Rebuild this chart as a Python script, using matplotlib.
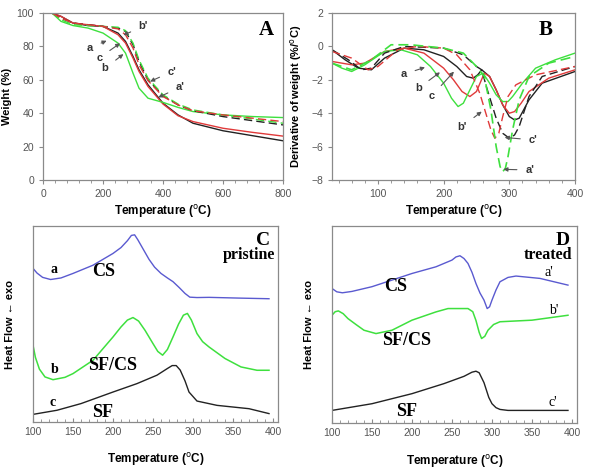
import numpy as np
import matplotlib.pyplot as plt
from matplotlib.ticker import MultipleLocator

# ---- Panel A: TGA (temperature, weight %) ----
tga_t = [30, 60, 100, 150, 200, 250, 275, 300, 320, 350, 400, 450, 500, 600, 700, 800]
tga_a = [100, 98, 94, 92.5, 92, 88, 83, 74, 66, 57, 46, 39, 34, 29.5, 26.5, 23.5]
tga_c = [100, 98, 94, 93, 92, 87, 82, 73, 65, 56, 45.5, 38.5, 35, 31, 28.5, 26.3]
tga_b = [100, 95, 92.5, 91, 88, 82, 76, 64, 55, 49, 46.5, 43.5, 41, 39, 38, 37.4]
tga_a2 = [100, 97, 94, 93, 92, 91, 89, 81, 71, 60, 50.5, 45, 41.5, 38, 35.5, 33]
tga_b2 = [100, 96, 93, 92.5, 92, 91.5, 89.5, 82, 72, 61, 51, 45.5, 42, 39, 36.5, 34]
tga_c2 = [100, 97, 94, 93, 92, 90.5, 87, 79, 69, 59.5, 50, 45, 41.5, 39, 37, 35]

# ---- Panel B: DTG (temperature, %/°C) ----
dtg_a_t = [30, 50, 70, 90, 110, 140, 170, 200, 220, 235, 245, 252, 258, 270, 280, 290, 300, 308, 315, 330, 350, 400]
dtg_a = [-0.2, -0.8, -1.3, -1.4, -0.7, -0.1, -0.2, -0.6, -1.2, -1.8, -1.9, -1.7, -1.4, -1.8, -2.6, -3.5, -4.2, -4.4, -4.3, -3.2, -2.2, -1.5]
dtg_b_t = [30, 45, 60, 80, 110, 135, 160, 180, 200, 212, 222, 230, 240, 250, 260, 270, 280, 290, 298, 305, 320, 340, 370, 400]
dtg_b = [-1.0, -1.3, -1.5, -1.1, -0.3, -0.2, -0.5, -1.2, -2.2, -3.1, -3.6, -3.4, -2.6, -1.8, -1.6, -2.2, -2.9, -3.3, -3.3, -3.0, -2.2, -1.3, -0.8, -0.4]
dtg_c_t = [30, 60, 80, 110, 140, 170, 200, 215, 228, 240, 250, 262, 270, 280, 290, 300, 308, 318, 330, 360, 400]
dtg_c = [-0.9, -1.1, -1.0, -0.3, -0.1, -0.4, -1.3, -2.0, -2.7, -3.0, -2.7, -1.6, -1.8, -2.6, -3.5, -4.0, -3.9, -3.4, -2.7, -1.9, -1.4]
dtg_a2_t = [30, 60, 90, 120, 150, 200, 230, 250, 262, 272, 280, 286, 290, 294, 298, 305, 315, 330, 360, 400]
dtg_a2 = [-1.0, -1.4, -0.8, 0.1, 0.1, -0.1, -0.4, -1.2, -1.8, -3.8, -6.0, -7.2, -7.5, -7.3, -6.6, -5.0, -3.2, -1.8, -1.0, -0.6]
dtg_c2_t = [30, 55, 75, 90, 110, 140, 200, 230, 250, 258, 265, 280, 290, 300, 308, 315, 330, 350, 400]
dtg_c2 = [-0.2, -0.8, -1.4, -1.3, -0.4, 0.0, -0.1, -0.5, -1.2, -1.4, -2.4, -4.3, -5.2, -5.5, -5.3, -4.8, -3.0, -1.8, -1.2]
dtg_b2_t = [30, 60, 85, 100, 130, 160, 200, 220, 240, 255, 265, 272, 278, 284, 290, 298, 310, 340, 400]
dtg_b2 = [-0.3, -0.7, -1.4, -1.2, -0.2, 0.0, -0.1, -0.5, -1.4, -2.8, -4.1, -5.0, -5.5, -5.2, -4.2, -3.0, -2.3, -1.7, -1.2]

# ---- Panel C: DSC pristine (arbitrary units) ----
dsc_cs_t = [100, 105, 112, 122, 135, 150, 175, 200, 210, 218, 223, 227, 231, 238, 245, 252, 260, 268, 275, 283, 290, 296, 305, 320, 360, 395]
dsc_cs = [78.4, 76, 73.8, 72.7, 73.5, 75.8, 80, 86, 89, 92.5, 95.2, 95.5, 93, 88, 83, 79, 75.8, 73.5, 71.6, 68.5, 65.6, 63.7, 63.5, 63.6, 63.2, 62.9]
dsc_sfcs_t = [100, 103, 108, 115, 125, 140, 150, 175, 200, 210, 218, 225, 232, 240, 250, 256, 262, 268, 275, 282, 288, 293, 298, 305, 312, 320, 340, 360, 380, 395]
dsc_sfcs = [39.2, 33, 27, 23, 21.6, 22.8, 24.7, 31.5, 43.4, 48.5, 52, 53.3, 51.5, 46.8, 40, 36, 34.1, 37, 43.4, 50, 54.5, 55.4, 52, 45.1, 41, 38.3, 32.4, 28.1, 26.4, 26.4]
dsc_sf_t = [100, 130, 160, 200, 230, 255, 268, 274, 279, 284, 290, 295, 305, 330, 370, 395]
dsc_sf = [3.9, 6, 9.4, 15.3, 19.6, 23.9, 27.3, 28.8, 28.8, 26.5, 21, 15.3, 10.7, 8.5, 6.8, 4.3]

# ---- Panel D: DSC treated ----
dsc2_cs_t = [100, 106, 113, 125, 150, 200, 230, 250, 255, 260, 265, 270, 275, 280, 285, 290, 294, 297, 300, 305, 310, 320, 330, 360, 395]
dsc2_cs = [68.3, 66.6, 66.1, 66.8, 69.2, 75.9, 79.3, 82.7, 84.3, 84.9, 83.5, 81, 76.5, 70.8, 66, 62.4, 58.1, 59, 62.4, 67.5, 71.7, 73.9, 74.6, 73.4, 70]
dsc2_sfcs_t = [100, 104, 108, 114, 120, 130, 140, 155, 175, 200, 230, 245, 270, 276, 280, 284, 287, 291, 295, 302, 310, 350, 395]
dsc2_sfcs = [54.7, 56.5, 56.9, 55.5, 53, 50, 47.1, 45.4, 47.1, 52.2, 56.4, 58.1, 58.1, 56.5, 52, 46, 42.9, 44, 47.1, 50, 51.4, 52.2, 54.7]
dsc2_sf_t = [100, 150, 200, 240, 265, 275, 280, 284, 290, 296, 300, 305, 310, 320, 395]
dsc2_sf = [6.4, 9.8, 14.9, 20, 23.7, 25.8, 26.3, 25.5, 20.5, 13, 9.8, 7.8, 6.9, 6.4, 6.4]

GREEN = '#3ee03e'
RED = '#e03a3a'
BLACK = '#222222'
BLUE = '#5a5ad0'
FRAME = '#8a8a8a'
DASH = (0, (6, 3))

plt.rcParams['font.family'] = ['Liberation Sans', 'DejaVu Sans']
fig = plt.figure(figsize=(6, 4.76), dpi=100)

axA = fig.add_axes([0.0717, 0.6218, 0.40, 0.3508])
axB = fig.add_axes([0.5533, 0.6218, 0.405, 0.3508])
axC = fig.add_axes([0.055, 0.1134, 0.408, 0.4118])
axD = fig.add_axes([0.5533, 0.1113, 0.408, 0.4139])

xlabel = 'Temperature ($^{\\mathrm{o}}$C)'


def style_axes(ax, inward=False):
    for s in ax.spines.values():
        s.set_color(FRAME)
        s.set_linewidth(0.9)
    ax.tick_params(which='both', direction='in' if inward else 'out',
                   labelsize=7.5, labelcolor='#555555', color=FRAME,
                   top=False, right=False)
    ax.tick_params(which='major', length=3)
    ax.tick_params(which='minor', length=2)


def arrow_label(ax, text, xy, xytext, size=8):
    ax.annotate(text, xy=xy, xytext=xytext, fontsize=size, fontweight='bold',
                color='#333333', ha='center', va='center',
                arrowprops=dict(arrowstyle='-|>', color='#555555', lw=0.8,
                                mutation_scale=6, shrinkA=4, shrinkB=0))


# Panel A
axA.plot(tga_t, tga_a, color=BLACK, lw=1)
axA.plot(tga_t, tga_c, color=RED, lw=1)
axA.plot(tga_t, tga_b, color=GREEN, lw=1)
axA.plot(tga_t, tga_a2, color=BLACK, lw=1, ls=DASH)
axA.plot(tga_t, tga_b2, color=GREEN, lw=1, ls=DASH)
axA.plot(tga_t, tga_c2, color=RED, lw=1, ls=DASH)
axA.set_xlim(0, 800)
axA.set_ylim(0, 100)
axA.xaxis.set_major_locator(MultipleLocator(200))
axA.xaxis.set_minor_locator(MultipleLocator(40))
axA.yaxis.set_major_locator(MultipleLocator(20))
style_axes(axA)
axA.set_xlabel(xlabel, fontsize=8.5, fontweight='bold')
axA.set_ylabel('Weight (%)', fontsize=8, fontweight='bold')
axA.xaxis.set_label_coords(0.5, -0.14)
axA.yaxis.set_label_coords(-0.13, 0.5)
axA.text(0.93, 0.90, 'A', transform=axA.transAxes, fontsize=15, fontweight='bold',
         family='Liberation Serif', ha='center', va='center')
arrow_label(axA, 'a', (212, 83.4), (157, 79.2))
arrow_label(axA, 'c', (257, 81.9), (188, 73.2))
arrow_label(axA, 'b', (268, 75.4), (207, 66.9))
arrow_label(axA, "b'", (268, 86.8), (334, 92))
arrow_label(axA, "c'", (357, 59), (429, 64.9))
arrow_label(axA, "a'", (384, 49.5), (457, 55.5))

# Panel B
axB.plot(dtg_a_t, dtg_a, color=BLACK, lw=1)
axB.plot(dtg_c_t, dtg_c, color=RED, lw=1)
axB.plot(dtg_b_t, dtg_b, color=GREEN, lw=1)
axB.plot(dtg_c2_t, dtg_c2, color=BLACK, lw=1, ls=DASH)
axB.plot(dtg_b2_t, dtg_b2, color=RED, lw=1, ls=DASH)
axB.plot(dtg_a2_t, dtg_a2, color=GREEN, lw=1.2, ls=DASH)
axB.set_xlim(30, 400)
axB.set_ylim(-8, 2)
axB.xaxis.set_major_locator(MultipleLocator(100))
axB.xaxis.set_minor_locator(MultipleLocator(20))
axB.yaxis.set_major_locator(MultipleLocator(2))
style_axes(axB)
axB.set_xlabel(xlabel, fontsize=8.5, fontweight='bold')
axB.set_ylabel('Derivative of weight (%/$^{\\mathrm{o}}$C)', fontsize=8, fontweight='bold')
axB.xaxis.set_label_coords(0.5, -0.14)
axB.yaxis.set_label_coords(-0.115, 0.5)
axB.text(0.88, 0.90, 'B', transform=axB.transAxes, fontsize=15, fontweight='bold',
         family='Liberation Serif', ha='center', va='center')
arrow_label(axB, 'a', (171.6, -1.25), (139.6, -1.67))
arrow_label(axB, 'b', (194.4, -1.55), (161.4, -2.51))
arrow_label(axB, 'c', (215.7, -1.51), (181.7, -2.97))
arrow_label(axB, "b'", (258, -3.9), (228, -4.8))
arrow_label(axB, "c'", (293, -5.45), (336, -5.6))
arrow_label(axB, "a'", (291, -7.36), (331, -7.4))

# Panel C
axC.plot(dsc_cs_t, dsc_cs, color=BLUE, lw=1)
axC.plot(dsc_sfcs_t, dsc_sfcs, color=GREEN, lw=1.1)
axC.plot(dsc_sf_t, dsc_sf, color=BLACK, lw=1)
axC.set_xlim(100, 406)
axC.set_ylim(0, 100)

# Panel D
axD.plot(dsc2_cs_t, dsc2_cs, color=BLUE, lw=1)
axD.plot(dsc2_sfcs_t, dsc2_sfcs, color=GREEN, lw=1.1)
axD.plot(dsc2_sf_t, dsc2_sf, color=BLACK, lw=1)
axD.set_xlim(100, 406)
axD.set_ylim(0, 100)

serif = dict(family='Liberation Serif', fontweight='bold', ha='center', va='center')
for ax, letter, state in [(axC, 'C', 'pristine'), (axD, 'D', 'treated')]:
    ax.xaxis.set_major_locator(MultipleLocator(50))
    ax.xaxis.set_minor_locator(MultipleLocator(10))
    ax.set_yticks([])
    style_axes(ax, inward=True)
    ax.set_xlabel(xlabel, fontsize=8.5, fontweight='bold')
    ax.set_ylabel('Heat Flow \u2190 exo', fontsize=8, fontweight='bold')
    ax.xaxis.set_label_coords(0.5, -0.15)
    ax.yaxis.set_label_coords(-0.075, 0.5)
    ax.text(388, 90.5, letter, fontsize=14, family='Liberation Serif',
            fontweight='bold', ha='center', va='baseline')
    ax.text(370, 83.0, state, fontsize=11.5, family='Liberation Serif',
            fontweight='bold', ha='center', va='baseline')

axC.text(126, 77.9, 'a', fontsize=10, **serif)
axC.text(188, 76.7, 'CS', fontsize=13, **serif)
axC.text(127, 26.7, 'b', fontsize=10, **serif)
axC.text(200, 29, 'SF/CS', fontsize=13, **serif)
axC.text(125, 9.9, 'c', fontsize=10, **serif)
axC.text(187, 5.1, 'SF', fontsize=13, **serif)

axD.text(371, 76.4, "a'", fontsize=10, family='Liberation Serif', ha='center', va='center')
axD.text(179, 69.5, 'CS', fontsize=13, **serif)
axD.text(377, 57, "b'", fontsize=10, family='Liberation Serif', ha='center', va='center')
axD.text(193, 42, 'SF/CS', fontsize=13, **serif)
axD.text(376, 10.2, "c'", fontsize=10, family='Liberation Serif', ha='center', va='center')
axD.text(193, 6.1, 'SF', fontsize=13, **serif)

fig.savefig('out.png', dpi=100)
